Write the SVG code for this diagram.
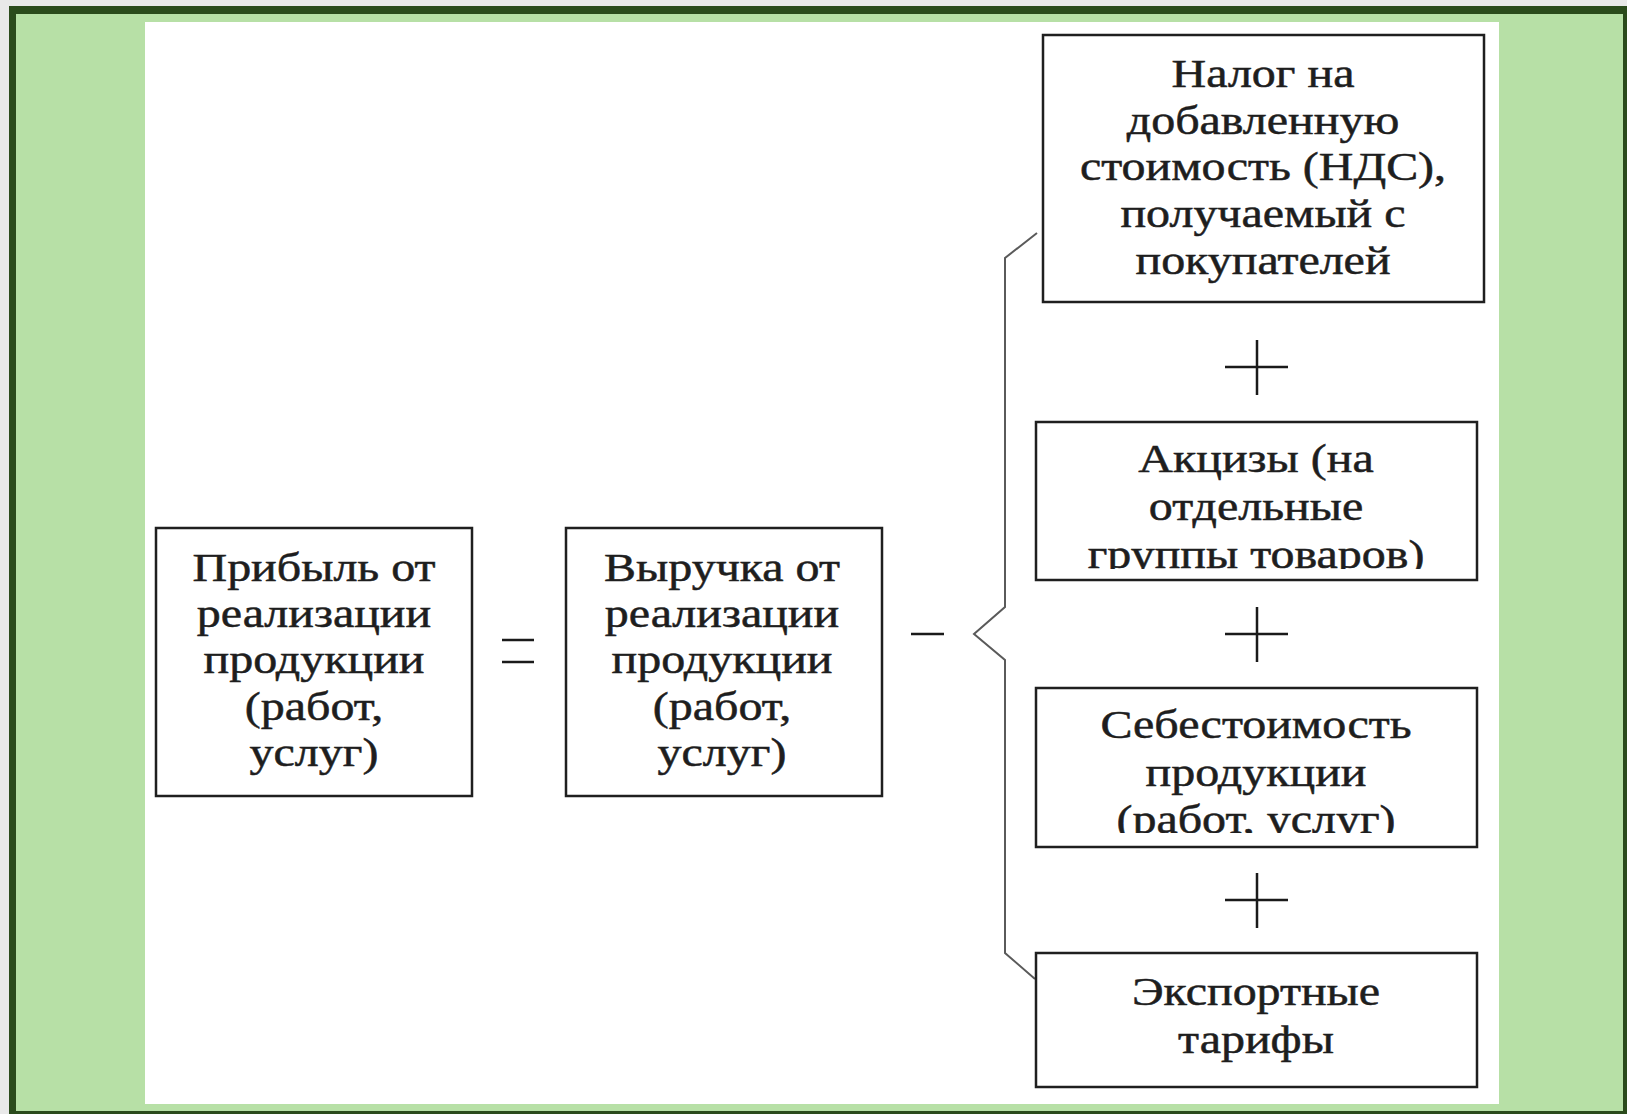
<svg xmlns="http://www.w3.org/2000/svg" width="1627" height="1114" viewBox="0 0 1627 1114">
  <style>
    .box { fill: #ffffff; stroke: #1f1f1f; stroke-width: 2.5; }
    .t { font-family: "Liberation Serif", "Times New Roman", serif; font-size: 39px; fill: #1e1e1e; stroke: #1e1e1e; stroke-width: 0.5; text-anchor: middle; }
    .op { stroke: #1a1a1a; stroke-width: 2.5; fill: none; }
    .brace { stroke: #5a5a5a; stroke-width: 2; fill: none; stroke-linejoin: miter; }
  </style>
  <defs>
    <clipPath id="clipAkc"><rect x="1036" y="423" width="440" height="146"/></clipPath>
    <clipPath id="clipSeb"><rect x="1036" y="689" width="440" height="144"/></clipPath>
  </defs>

  <!-- frame -->
  <rect x="0" y="0" width="1627" height="1114" fill="#e9e9e9"/>
  <rect x="9" y="6" width="1618" height="1108" fill="#2b4b1c"/>
  <rect x="16" y="14" width="1607" height="1097" fill="#b7e0a6"/>
  <rect x="145" y="22" width="1354" height="1082" fill="#ffffff"/>

  <!-- connectors / operators -->
  <g id="connectors">
    <path class="brace" d="M1037,233 L1005,258 L1005,607 L974,634 L1005,660 L1005,953 L1035,979"/>
    <line class="op" x1="502" y1="640" x2="534" y2="640"/>
    <line class="op" x1="502" y1="662" x2="534" y2="662"/>
    <line class="op" x1="911" y1="634" x2="944" y2="634"/>
    <path class="op" d="M1225,367 H1288 M1257,340 V395"/>
    <path class="op" d="M1225,634 H1288 M1257,607 V662"/>
    <path class="op" d="M1225,900 H1288 M1257,873 V928"/>
  </g>

  <g id="node-pribyl">
    <rect class="box" x="156" y="528" width="316" height="268"/>
    <g transform="translate(314,0) scale(1.23,1)">
      <text class="t" x="0" y="581">Прибыль от</text>
      <text class="t" x="0" y="627">реализации</text>
      <text class="t" x="0" y="673">продукции</text>
      <text class="t" x="0" y="720">(работ,</text>
      <text class="t" x="0" y="766">услуг)</text>
    </g>
  </g>

  <g id="node-vyruchka">
    <rect class="box" x="566" y="528" width="316" height="268"/>
    <g transform="translate(722,0) scale(1.23,1)">
      <text class="t" x="0" y="581">Выручка от</text>
      <text class="t" x="0" y="627">реализации</text>
      <text class="t" x="0" y="673">продукции</text>
      <text class="t" x="0" y="720">(работ,</text>
      <text class="t" x="0" y="766">услуг)</text>
    </g>
  </g>

  <g id="node-nds">
    <rect class="box" x="1043" y="35" width="441" height="267"/>
    <g transform="translate(1263,0) scale(1.23,1)">
      <text class="t" x="0" y="87">Налог на</text>
      <text class="t" x="0" y="134">добавленную</text>
      <text class="t" x="0" y="180">стоимость (НДС),</text>
      <text class="t" x="0" y="227">получаемый с</text>
      <text class="t" x="0" y="274">покупателей</text>
    </g>
  </g>

  <g id="node-akcizy">
    <rect class="box" x="1036" y="422" width="441" height="158"/>
    <g clip-path="url(#clipAkc)">
      <g transform="translate(1256,0) scale(1.23,1)">
        <text class="t" x="0" y="472">Акцизы (на</text>
        <text class="t" x="0" y="520">отдельные</text>
        <text class="t" x="0" y="568">группы товаров)</text>
      </g>
    </g>
  </g>

  <g id="node-sebest">
    <rect class="box" x="1036" y="688" width="441" height="159"/>
    <g clip-path="url(#clipSeb)">
      <g transform="translate(1256,0) scale(1.23,1)">
        <text class="t" x="0" y="738">Себестоимость</text>
        <text class="t" x="0" y="786">продукции</text>
        <text class="t" x="0" y="833">(работ, услуг)</text>
      </g>
    </g>
  </g>

  <g id="node-export">
    <rect class="box" x="1036" y="953" width="441" height="134"/>
    <g transform="translate(1256,0) scale(1.23,1)">
      <text class="t" x="0" y="1005">Экспортные</text>
      <text class="t" x="0" y="1053">тарифы</text>
    </g>
  </g>
</svg>
